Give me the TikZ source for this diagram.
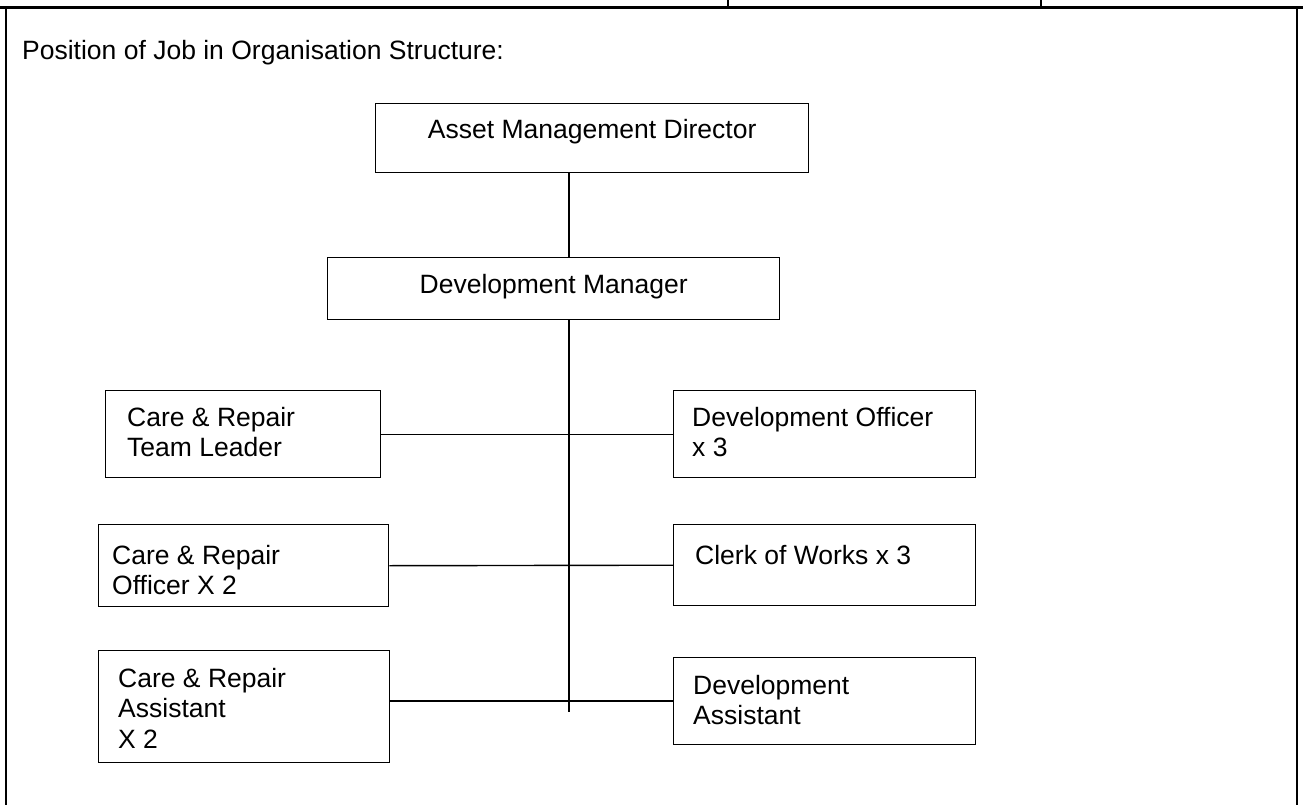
\documentclass[tikz,border=0pt]{standalone}
\usepackage{fontspec}
\setmainfont{Liberation Sans}
\usepackage{tikz}
\usetikzlibrary{positioning}

\tikzset{
  post/.style={draw, line width=1.4pt, inner sep=0pt, anchor=north west},
  postname/.style={inner sep=0pt, align=left},
  link/.style={line width=1.4pt}
}

\begin{document}
\begin{tikzpicture}[x=1pt, y=-1pt, font=\fontsize{26.5}{30.5}\selectfont]
        \useasboundingbox (0,0) rectangle (1303,805);
        \draw[line width=3pt] (0,8) -- (1303,8);
        \draw[line width=1.4pt] (6,8) -- (6,805) (1297,8) -- (1297,805)
          (728,0) -- (728,8) (1041,0) -- (1041,8);
        \node[postname, anchor=north west] (heading) at (22,40) {Position of Job in Organisation Structure:};

        \node[post, minimum width=433pt, minimum height=69pt] (amd) at (375,103) {};
        \node[post, minimum width=452pt, minimum height=62pt] (dm) at (327,257) {};
        \node[post, minimum width=275pt, minimum height=87pt] (crtl) at (105,390) {};
        \node[post, minimum width=302pt, minimum height=87pt] (devoff) at (673,390) {};
        \node[post, minimum width=290pt, minimum height=82pt] (cro) at (98,524) {};
        \node[post, minimum width=302pt, minimum height=81pt] (clerk) at (673,524) {};
        \node[post, minimum width=291pt, minimum height=112pt] (cra) at (98,650) {};
        \node[post, minimum width=302pt, minimum height=87pt] (devasst) at (673,657) {};

        \node[postname, below=16pt of amd.north] {Asset Management Director};
        \node[postname, below=17pt of dm.north] {Development Manager};
        \node[postname, below right=17pt and 22pt of crtl.north west] {Care \& Repair\\Team Leader};
        \node[postname, below right=17pt and 19pt of devoff.north west] {Development Officer\\x 3};
        \node[postname, below right=21pt and 14pt of cro.north west] {Care \& Repair\\Officer X 2};
        \node[postname, below right=21pt and 22pt of clerk.north west] {Clerk of Works x 3};
        \node[postname, below right=18pt and 20pt of cra.north west] {Care \& Repair\\Assistant\\X 2};
        \node[postname, below right=18pt and 20pt of devasst.north west] {Development\\Assistant};

        \coordinate (spine) at (569,712);
        \coordinate (junction) at (569,701);
        \draw[link] (amd.south -| spine) -- (dm.north -| spine);
        \draw[link] (dm.south -| spine) -- (spine);
        \draw[link] (crtl.east) -- (crtl.east -| devoff.west);
        \draw[link] (cro.east) -- (clerk.west);
        \draw[link] (cra.east |- junction) -- (devasst.west |- junction);
      \end{tikzpicture}
\end{document}
